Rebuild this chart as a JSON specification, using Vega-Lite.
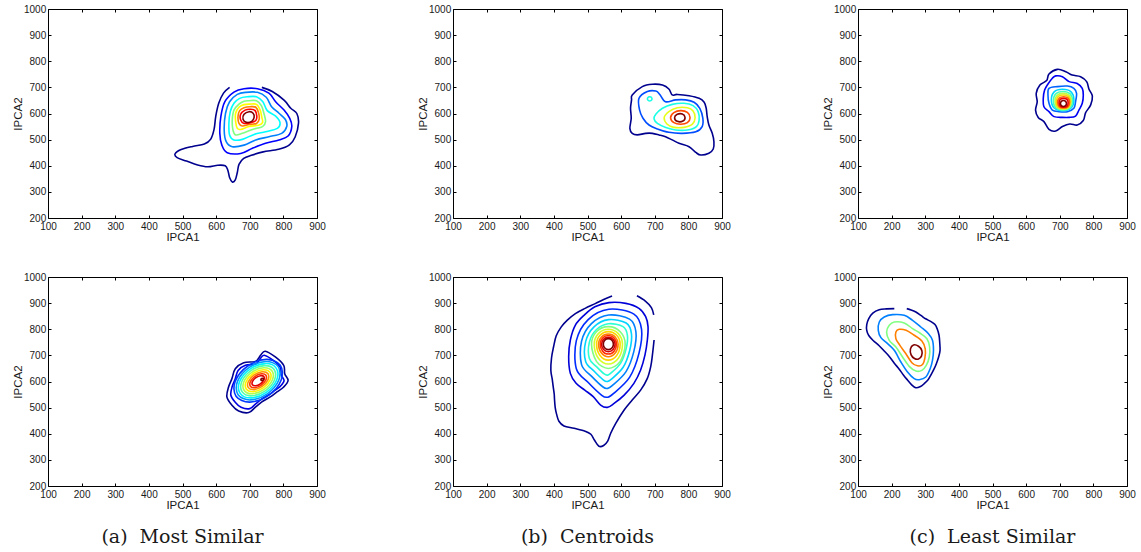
{
"$schema": "https://vega.github.io/schema/vega-lite/v6.json",
"background": "white",
"padding": {"left": 12, "top": 4, "right": 5, "bottom": 5},
"autosize": {"type": "pad"},
"config": {
 "view": {"stroke": null},
 "axis": {"grid": false, "tickSize": -3, "tickColor": "#000", "tickWidth": 1, "domainColor": "#000", "domainWidth": 1, "labelFont": "Liberation Sans", "labelFontSize": 10, "labelColor": "#1a1a1a", "titleFont": "Liberation Sans", "titleFontSize": 11.5, "titleFontWeight": "normal", "titleColor": "#1a1a1a", "titlePadding": 0, "labelFlush": false, "labelOverlap": false},
 "axisX": {"labelPadding": 6.5},
 "axisY": {"labelPadding": 5.3}
},
"data": {"values": [
{"p":1,"c":0,"t":0,"o":1,"x":640,"y":700},{"p":1,"c":0,"t":0,"o":1,"x":622,"y":678},{"p":1,"c":0,"t":0,"o":1,"x":608,"y":640},{"p":1,"c":0,"t":0,"o":1,"x":599,"y":590},{"p":1,"c":0,"t":0,"o":1,"x":594,"y":540},{"p":1,"c":0,"t":0,"o":1,"x":584,"y":502},{"p":1,"c":0,"t":0,"o":1,"x":565,"y":483},{"p":1,"c":0,"t":0,"o":1,"x":530,"y":474},{"p":1,"c":0,"t":0,"o":1,"x":496,"y":462},{"p":1,"c":0,"t":0,"o":1,"x":478,"y":446},{"p":1,"c":0,"t":0,"o":1,"x":484,"y":431},{"p":1,"c":0,"t":0,"o":1,"x":512,"y":418},{"p":1,"c":0,"t":0,"o":1,"x":545,"y":403},{"p":1,"c":0,"t":0,"o":1,"x":575,"y":396},{"p":1,"c":0,"t":0,"o":1,"x":605,"y":402},{"p":1,"c":0,"t":0,"o":1,"x":627,"y":400},{"p":1,"c":0,"t":0,"o":1,"x":635,"y":382},{"p":1,"c":0,"t":0,"o":1,"x":640,"y":355},{"p":1,"c":0,"t":0,"o":1,"x":648,"y":338},{"p":1,"c":0,"t":0,"o":1,"x":657,"y":346},{"p":1,"c":0,"t":0,"o":1,"x":663,"y":374},{"p":1,"c":0,"t":0,"o":1,"x":668,"y":405},{"p":1,"c":0,"t":0,"o":1,"x":682,"y":428},{"p":1,"c":0,"t":0,"o":1,"x":705,"y":440},{"p":1,"c":0,"t":0,"o":1,"x":740,"y":453},{"p":1,"c":0,"t":0,"o":1,"x":786,"y":463},{"p":1,"c":0,"t":0,"o":1,"x":818,"y":480},{"p":1,"c":0,"t":0,"o":1,"x":835,"y":510},{"p":1,"c":0,"t":0,"o":1,"x":845,"y":563},{"p":1,"c":0,"t":0,"o":1,"x":840,"y":600},{"p":1,"c":0,"t":0,"o":1,"x":822,"y":620},{"p":1,"c":0,"t":0,"o":1,"x":802,"y":651},{"p":1,"c":0,"t":0,"o":1,"x":767,"y":684},{"p":1,"c":0,"t":0,"o":1,"x":736,"y":700},
{"p":1,"c":1,"t":0.125,"o":0,"x":683,"y":695},{"p":1,"c":1,"t":0.125,"o":0,"x":723,"y":695},{"p":1,"c":1,"t":0.125,"o":0,"x":757,"y":678},{"p":1,"c":1,"t":0.125,"o":0,"x":777,"y":645},{"p":1,"c":1,"t":0.125,"o":0,"x":802,"y":613},{"p":1,"c":1,"t":0.125,"o":0,"x":819,"y":581},{"p":1,"c":1,"t":0.125,"o":0,"x":825,"y":550},{"p":1,"c":1,"t":0.125,"o":0,"x":814,"y":514},{"p":1,"c":1,"t":0.125,"o":0,"x":787,"y":499},{"p":1,"c":1,"t":0.125,"o":0,"x":747,"y":486},{"p":1,"c":1,"t":0.125,"o":0,"x":708,"y":467},{"p":1,"c":1,"t":0.125,"o":0,"x":673,"y":447},{"p":1,"c":1,"t":0.125,"o":0,"x":633,"y":450},{"p":1,"c":1,"t":0.125,"o":0,"x":617,"y":479},{"p":1,"c":1,"t":0.125,"o":0,"x":611,"y":524},{"p":1,"c":1,"t":0.125,"o":0,"x":614,"y":588},{"p":1,"c":1,"t":0.125,"o":0,"x":626,"y":645},{"p":1,"c":1,"t":0.125,"o":0,"x":653,"y":682},
{"p":1,"c":2,"t":0.25,"o":0,"x":688,"y":681},{"p":1,"c":2,"t":0.25,"o":0,"x":723,"y":681},{"p":1,"c":2,"t":0.25,"o":0,"x":749,"y":662},{"p":1,"c":2,"t":0.25,"o":0,"x":765,"y":626},{"p":1,"c":2,"t":0.25,"o":0,"x":787,"y":601},{"p":1,"c":2,"t":0.25,"o":0,"x":806,"y":577},{"p":1,"c":2,"t":0.25,"o":0,"x":810,"y":550},{"p":1,"c":2,"t":0.25,"o":0,"x":795,"y":524},{"p":1,"c":2,"t":0.25,"o":0,"x":757,"y":511},{"p":1,"c":2,"t":0.25,"o":0,"x":718,"y":499},{"p":1,"c":2,"t":0.25,"o":0,"x":683,"y":479},{"p":1,"c":2,"t":0.25,"o":0,"x":648,"y":473},{"p":1,"c":2,"t":0.25,"o":0,"x":630,"y":492},{"p":1,"c":2,"t":0.25,"o":0,"x":624,"y":537},{"p":1,"c":2,"t":0.25,"o":0,"x":628,"y":601},{"p":1,"c":2,"t":0.25,"o":0,"x":640,"y":645},{"p":1,"c":2,"t":0.25,"o":0,"x":663,"y":673},
{"p":1,"c":3,"t":0.375,"o":0,"x":693,"y":664},{"p":1,"c":3,"t":0.375,"o":0,"x":720,"y":664},{"p":1,"c":3,"t":0.375,"o":0,"x":739,"y":645},{"p":1,"c":3,"t":0.375,"o":0,"x":752,"y":611},{"p":1,"c":3,"t":0.375,"o":0,"x":777,"y":590},{"p":1,"c":3,"t":0.375,"o":0,"x":790,"y":565},{"p":1,"c":3,"t":0.375,"o":0,"x":782,"y":543},{"p":1,"c":3,"t":0.375,"o":0,"x":747,"y":530},{"p":1,"c":3,"t":0.375,"o":0,"x":713,"y":520},{"p":1,"c":3,"t":0.375,"o":0,"x":678,"y":501},{"p":1,"c":3,"t":0.375,"o":0,"x":653,"y":499},{"p":1,"c":3,"t":0.375,"o":0,"x":640,"y":518},{"p":1,"c":3,"t":0.375,"o":0,"x":638,"y":562},{"p":1,"c":3,"t":0.375,"o":0,"x":642,"y":607},{"p":1,"c":3,"t":0.375,"o":0,"x":653,"y":639},{"p":1,"c":3,"t":0.375,"o":0,"x":670,"y":658},
{"p":1,"c":4,"t":0.5,"o":0,"x":698,"y":649},{"p":1,"c":4,"t":0.5,"o":0,"x":720,"y":649},{"p":1,"c":4,"t":0.5,"o":0,"x":735,"y":629},{"p":1,"c":4,"t":0.5,"o":0,"x":742,"y":601},{"p":1,"c":4,"t":0.5,"o":0,"x":747,"y":569},{"p":1,"c":4,"t":0.5,"o":0,"x":738,"y":550},{"p":1,"c":4,"t":0.5,"o":0,"x":708,"y":539},{"p":1,"c":4,"t":0.5,"o":0,"x":678,"y":524},{"p":1,"c":4,"t":0.5,"o":0,"x":658,"y":518},{"p":1,"c":4,"t":0.5,"o":0,"x":650,"y":537},{"p":1,"c":4,"t":0.5,"o":0,"x":648,"y":575},{"p":1,"c":4,"t":0.5,"o":0,"x":653,"y":613},{"p":1,"c":4,"t":0.5,"o":0,"x":668,"y":636},{"p":1,"c":4,"t":0.5,"o":0,"x":683,"y":647},
{"p":1,"c":5,"t":0.625,"o":0,"x":700,"y":636},{"p":1,"c":5,"t":0.625,"o":0,"x":720,"y":635},{"p":1,"c":5,"t":0.625,"o":0,"x":731,"y":613},{"p":1,"c":5,"t":0.625,"o":0,"x":736,"y":585},{"p":1,"c":5,"t":0.625,"o":0,"x":738,"y":565},{"p":1,"c":5,"t":0.625,"o":0,"x":726,"y":555},{"p":1,"c":5,"t":0.625,"o":0,"x":698,"y":550},{"p":1,"c":5,"t":0.625,"o":0,"x":673,"y":539},{"p":1,"c":5,"t":0.625,"o":0,"x":663,"y":543},{"p":1,"c":5,"t":0.625,"o":0,"x":658,"y":569},{"p":1,"c":5,"t":0.625,"o":0,"x":658,"y":601},{"p":1,"c":5,"t":0.625,"o":0,"x":668,"y":624},{"p":1,"c":5,"t":0.625,"o":0,"x":683,"y":634},
{"p":1,"c":6,"t":0.75,"o":0,"x":701,"y":626},{"p":1,"c":6,"t":0.75,"o":0,"x":718,"y":624},{"p":1,"c":6,"t":0.75,"o":0,"x":726,"y":603},{"p":1,"c":6,"t":0.75,"o":0,"x":728,"y":578},{"p":1,"c":6,"t":0.75,"o":0,"x":720,"y":562},{"p":1,"c":6,"t":0.75,"o":0,"x":698,"y":558},{"p":1,"c":6,"t":0.75,"o":0,"x":678,"y":552},{"p":1,"c":6,"t":0.75,"o":0,"x":668,"y":562},{"p":1,"c":6,"t":0.75,"o":0,"x":665,"y":588},{"p":1,"c":6,"t":0.75,"o":0,"x":670,"y":611},{"p":1,"c":6,"t":0.75,"o":0,"x":683,"y":622},
{"p":1,"c":7,"t":0.875,"o":0,"x":703,"y":616},{"p":1,"c":7,"t":0.875,"o":0,"x":716,"y":611},{"p":1,"c":7,"t":0.875,"o":0,"x":721,"y":590},{"p":1,"c":7,"t":0.875,"o":0,"x":718,"y":573},{"p":1,"c":7,"t":0.875,"o":0,"x":703,"y":565},{"p":1,"c":7,"t":0.875,"o":0,"x":683,"y":562},{"p":1,"c":7,"t":0.875,"o":0,"x":673,"y":575},{"p":1,"c":7,"t":0.875,"o":0,"x":673,"y":597},{"p":1,"c":7,"t":0.875,"o":0,"x":686,"y":613},
{"p":1,"c":8,"t":1,"o":0,"x":698,"y":607},{"p":1,"c":8,"t":1,"o":0,"x":710,"y":601},{"p":1,"c":8,"t":1,"o":0,"x":713,"y":585},{"p":1,"c":8,"t":1,"o":0,"x":706,"y":570},{"p":1,"c":8,"t":1,"o":0,"x":690,"y":566},{"p":1,"c":8,"t":1,"o":0,"x":680,"y":578},{"p":1,"c":8,"t":1,"o":0,"x":683,"y":597},

{"p":2,"c":0,"t":0,"o":0,"x":633,"y":671},{"p":2,"c":0,"t":0,"o":0,"x":663,"y":703},{"p":2,"c":0,"t":0,"o":0,"x":693,"y":712},{"p":2,"c":0,"t":0,"o":0,"x":723,"y":709},{"p":2,"c":0,"t":0,"o":0,"x":742,"y":694},{"p":2,"c":0,"t":0,"o":0,"x":752,"y":671},{"p":2,"c":0,"t":0,"o":0,"x":767,"y":673},{"p":2,"c":0,"t":0,"o":0,"x":802,"y":668},{"p":2,"c":0,"t":0,"o":0,"x":832,"y":658},{"p":2,"c":0,"t":0,"o":0,"x":847,"y":643},{"p":2,"c":0,"t":0,"o":0,"x":853,"y":620},{"p":2,"c":0,"t":0,"o":0,"x":856,"y":588},{"p":2,"c":0,"t":0,"o":0,"x":861,"y":556},{"p":2,"c":0,"t":0,"o":0,"x":871,"y":524},{"p":2,"c":0,"t":0,"o":0,"x":876,"y":492},{"p":2,"c":0,"t":0,"o":0,"x":874,"y":464},{"p":2,"c":0,"t":0,"o":0,"x":861,"y":448},{"p":2,"c":0,"t":0,"o":0,"x":837,"y":441},{"p":2,"c":0,"t":0,"o":0,"x":822,"y":451},{"p":2,"c":0,"t":0,"o":0,"x":802,"y":473},{"p":2,"c":0,"t":0,"o":0,"x":772,"y":486},{"p":2,"c":0,"t":0,"o":0,"x":752,"y":499},{"p":2,"c":0,"t":0,"o":0,"x":732,"y":511},{"p":2,"c":0,"t":0,"o":0,"x":713,"y":518},{"p":2,"c":0,"t":0,"o":0,"x":693,"y":524},{"p":2,"c":0,"t":0,"o":0,"x":673,"y":524},{"p":2,"c":0,"t":0,"o":0,"x":648,"y":518},{"p":2,"c":0,"t":0,"o":0,"x":633,"y":524},{"p":2,"c":0,"t":0,"o":0,"x":626,"y":543},{"p":2,"c":0,"t":0,"o":0,"x":630,"y":582},{"p":2,"c":0,"t":0,"o":0,"x":628,"y":620},{"p":2,"c":0,"t":0,"o":0,"x":631,"y":652},
{"p":2,"c":1,"t":0.2,"o":0,"x":653,"y":658},{"p":2,"c":1,"t":0.2,"o":0,"x":678,"y":684},{"p":2,"c":1,"t":0.2,"o":0,"x":703,"y":686},{"p":2,"c":1,"t":0.2,"o":0,"x":715,"y":673},{"p":2,"c":1,"t":0.2,"o":0,"x":732,"y":645},{"p":2,"c":1,"t":0.2,"o":0,"x":762,"y":652},{"p":2,"c":1,"t":0.2,"o":0,"x":792,"y":652},{"p":2,"c":1,"t":0.2,"o":0,"x":817,"y":643},{"p":2,"c":1,"t":0.2,"o":0,"x":834,"y":620},{"p":2,"c":1,"t":0.2,"o":0,"x":843,"y":582},{"p":2,"c":1,"t":0.2,"o":0,"x":841,"y":550},{"p":2,"c":1,"t":0.2,"o":0,"x":822,"y":530},{"p":2,"c":1,"t":0.2,"o":0,"x":782,"y":524},{"p":2,"c":1,"t":0.2,"o":0,"x":742,"y":528},{"p":2,"c":1,"t":0.2,"o":0,"x":708,"y":541},{"p":2,"c":1,"t":0.2,"o":0,"x":683,"y":556},{"p":2,"c":1,"t":0.2,"o":0,"x":665,"y":582},{"p":2,"c":1,"t":0.2,"o":0,"x":655,"y":613},
{"p":2,"c":2,"t":0.4,"o":0,"x":685,"y":664},{"p":2,"c":2,"t":0.4,"o":0,"x":691,"y":660},{"p":2,"c":2,"t":0.4,"o":0,"x":691,"y":652},{"p":2,"c":2,"t":0.4,"o":0,"x":685,"y":648},{"p":2,"c":2,"t":0.4,"o":0,"x":679,"y":652},{"p":2,"c":2,"t":0.4,"o":0,"x":679,"y":660},
{"p":2,"c":3,"t":0.4,"o":0,"x":703,"y":597},{"p":2,"c":3,"t":0.4,"o":0,"x":723,"y":620},{"p":2,"c":3,"t":0.4,"o":0,"x":752,"y":635},{"p":2,"c":3,"t":0.4,"o":0,"x":787,"y":639},{"p":2,"c":3,"t":0.4,"o":0,"x":814,"y":630},{"p":2,"c":3,"t":0.4,"o":0,"x":829,"y":607},{"p":2,"c":3,"t":0.4,"o":0,"x":832,"y":575},{"p":2,"c":3,"t":0.4,"o":0,"x":824,"y":550},{"p":2,"c":3,"t":0.4,"o":0,"x":797,"y":537},{"p":2,"c":3,"t":0.4,"o":0,"x":762,"y":537},{"p":2,"c":3,"t":0.4,"o":0,"x":733,"y":546},{"p":2,"c":3,"t":0.4,"o":0,"x":708,"y":562},{"p":2,"c":3,"t":0.4,"o":0,"x":698,"y":579},
{"p":2,"c":4,"t":0.6,"o":0,"x":728,"y":584},{"p":2,"c":4,"t":0.6,"o":0,"x":742,"y":607},{"p":2,"c":4,"t":0.6,"o":0,"x":767,"y":622},{"p":2,"c":4,"t":0.6,"o":0,"x":797,"y":622},{"p":2,"c":4,"t":0.6,"o":0,"x":814,"y":610},{"p":2,"c":4,"t":0.6,"o":0,"x":820,"y":584},{"p":2,"c":4,"t":0.6,"o":0,"x":812,"y":559},{"p":2,"c":4,"t":0.6,"o":0,"x":787,"y":547},{"p":2,"c":4,"t":0.6,"o":0,"x":757,"y":547},{"p":2,"c":4,"t":0.6,"o":0,"x":737,"y":559},
{"p":2,"c":5,"t":0.8,"o":0,"x":747,"y":584},{"p":2,"c":5,"t":0.8,"o":0,"x":757,"y":603},{"p":2,"c":5,"t":0.8,"o":0,"x":777,"y":611},{"p":2,"c":5,"t":0.8,"o":0,"x":797,"y":604},{"p":2,"c":5,"t":0.8,"o":0,"x":805,"y":584},{"p":2,"c":5,"t":0.8,"o":0,"x":797,"y":565},{"p":2,"c":5,"t":0.8,"o":0,"x":777,"y":559},{"p":2,"c":5,"t":0.8,"o":0,"x":757,"y":565},
{"p":2,"c":6,"t":1,"o":0,"x":759,"y":584},{"p":2,"c":6,"t":1,"o":0,"x":767,"y":597},{"p":2,"c":6,"t":1,"o":0,"x":782,"y":598},{"p":2,"c":6,"t":1,"o":0,"x":790,"y":585},{"p":2,"c":6,"t":1,"o":0,"x":784,"y":571},{"p":2,"c":6,"t":1,"o":0,"x":767,"y":570},

{"p":3,"c":0,"t":0,"o":0,"x":693,"y":769},{"p":3,"c":0,"t":0,"o":0,"x":718,"y":760},{"p":3,"c":0,"t":0,"o":0,"x":737,"y":747},{"p":3,"c":0,"t":0,"o":0,"x":762,"y":741},{"p":3,"c":0,"t":0,"o":0,"x":780,"y":722},{"p":3,"c":0,"t":0,"o":0,"x":787,"y":693},{"p":3,"c":0,"t":0,"o":0,"x":797,"y":667},{"p":3,"c":0,"t":0,"o":0,"x":792,"y":633},{"p":3,"c":0,"t":0,"o":0,"x":777,"y":603},{"p":3,"c":0,"t":0,"o":0,"x":770,"y":573},{"p":3,"c":0,"t":0,"o":0,"x":752,"y":556},{"p":3,"c":0,"t":0,"o":0,"x":730,"y":560},{"p":3,"c":0,"t":0,"o":0,"x":708,"y":550},{"p":3,"c":0,"t":0,"o":0,"x":688,"y":533},{"p":3,"c":0,"t":0,"o":0,"x":668,"y":539},{"p":3,"c":0,"t":0,"o":0,"x":653,"y":569},{"p":3,"c":0,"t":0,"o":0,"x":636,"y":585},{"p":3,"c":0,"t":0,"o":0,"x":628,"y":613},{"p":3,"c":0,"t":0,"o":0,"x":633,"y":645},{"p":3,"c":0,"t":0,"o":0,"x":630,"y":677},{"p":3,"c":0,"t":0,"o":0,"x":641,"y":709},{"p":3,"c":0,"t":0,"o":0,"x":661,"y":726},{"p":3,"c":0,"t":0,"o":0,"x":668,"y":751},
{"p":3,"c":1,"t":0.111,"o":0,"x":688,"y":744},{"p":3,"c":1,"t":0.111,"o":0,"x":708,"y":741},{"p":3,"c":1,"t":0.111,"o":0,"x":728,"y":722},{"p":3,"c":1,"t":0.111,"o":0,"x":752,"y":715},{"p":3,"c":1,"t":0.111,"o":0,"x":767,"y":696},{"p":3,"c":1,"t":0.111,"o":0,"x":770,"y":671},{"p":3,"c":1,"t":0.111,"o":0,"x":767,"y":639},{"p":3,"c":1,"t":0.111,"o":0,"x":757,"y":613},{"p":3,"c":1,"t":0.111,"o":0,"x":747,"y":590},{"p":3,"c":1,"t":0.111,"o":0,"x":728,"y":585},{"p":3,"c":1,"t":0.111,"o":0,"x":708,"y":585},{"p":3,"c":1,"t":0.111,"o":0,"x":683,"y":588},{"p":3,"c":1,"t":0.111,"o":0,"x":668,"y":607},{"p":3,"c":1,"t":0.111,"o":0,"x":653,"y":626},{"p":3,"c":1,"t":0.111,"o":0,"x":651,"y":658},{"p":3,"c":1,"t":0.111,"o":0,"x":655,"y":690},{"p":3,"c":1,"t":0.111,"o":0,"x":665,"y":713},{"p":3,"c":1,"t":0.111,"o":0,"x":678,"y":735},
{"p":3,"c":2,"t":0.222,"o":0,"x":668,"y":696},{"p":3,"c":2,"t":0.222,"o":0,"x":693,"y":703},{"p":3,"c":2,"t":0.222,"o":0,"x":723,"y":705},{"p":3,"c":2,"t":0.222,"o":0,"x":742,"y":696},{"p":3,"c":2,"t":0.222,"o":0,"x":750,"y":677},{"p":3,"c":2,"t":0.222,"o":0,"x":747,"y":645},{"p":3,"c":2,"t":0.222,"o":0,"x":742,"y":620},{"p":3,"c":2,"t":0.222,"o":0,"x":723,"y":607},{"p":3,"c":2,"t":0.222,"o":0,"x":698,"y":607},{"p":3,"c":2,"t":0.222,"o":0,"x":678,"y":613},{"p":3,"c":2,"t":0.222,"o":0,"x":668,"y":639},{"p":3,"c":2,"t":0.222,"o":0,"x":665,"y":671},
{"p":3,"c":3,"t":0.333,"o":0,"x":708.5,"y":693},{"p":3,"c":3,"t":0.333,"o":0,"x":733.6,"y":682.8},{"p":3,"c":3,"t":0.333,"o":0,"x":742,"y":652},{"p":3,"c":3,"t":0.333,"o":0,"x":733.6,"y":621.2},{"p":3,"c":3,"t":0.333,"o":0,"x":708.5,"y":611},{"p":3,"c":3,"t":0.333,"o":0,"x":683.4,"y":621.2},{"p":3,"c":3,"t":0.333,"o":0,"x":675,"y":652},{"p":3,"c":3,"t":0.333,"o":0,"x":683.4,"y":682.8},
{"p":3,"c":4,"t":0.444,"o":0,"x":709.5,"y":684},{"p":3,"c":4,"t":0.444,"o":0,"x":730.9,"y":675.1},{"p":3,"c":4,"t":0.444,"o":0,"x":738,"y":648.5},{"p":3,"c":4,"t":0.444,"o":0,"x":730.9,"y":621.9},{"p":3,"c":4,"t":0.444,"o":0,"x":709.5,"y":613},{"p":3,"c":4,"t":0.444,"o":0,"x":688.1,"y":621.9},{"p":3,"c":4,"t":0.444,"o":0,"x":681,"y":648.5},{"p":3,"c":4,"t":0.444,"o":0,"x":688.1,"y":675.1},
{"p":3,"c":5,"t":0.556,"o":0,"x":710,"y":677},{"p":3,"c":5,"t":0.556,"o":0,"x":728,"y":669.4},{"p":3,"c":5,"t":0.556,"o":0,"x":734,"y":646.5},{"p":3,"c":5,"t":0.556,"o":0,"x":728,"y":623.6},{"p":3,"c":5,"t":0.556,"o":0,"x":710,"y":616},{"p":3,"c":5,"t":0.556,"o":0,"x":692,"y":623.6},{"p":3,"c":5,"t":0.556,"o":0,"x":686,"y":646.5},{"p":3,"c":5,"t":0.556,"o":0,"x":692,"y":669.4},
{"p":3,"c":6,"t":0.667,"o":0,"x":710.5,"y":671},{"p":3,"c":6,"t":0.667,"o":0,"x":725.9,"y":664.5},{"p":3,"c":6,"t":0.667,"o":0,"x":731,"y":645},{"p":3,"c":6,"t":0.667,"o":0,"x":725.9,"y":625.5},{"p":3,"c":6,"t":0.667,"o":0,"x":710.5,"y":619},{"p":3,"c":6,"t":0.667,"o":0,"x":695.1,"y":625.5},{"p":3,"c":6,"t":0.667,"o":0,"x":690,"y":645},{"p":3,"c":6,"t":0.667,"o":0,"x":695.1,"y":664.5},
{"p":3,"c":7,"t":0.778,"o":0,"x":711.5,"y":664},{"p":3,"c":7,"t":0.778,"o":0,"x":724.6,"y":658.6},{"p":3,"c":7,"t":0.778,"o":0,"x":729,"y":642.5},{"p":3,"c":7,"t":0.778,"o":0,"x":724.6,"y":626.4},{"p":3,"c":7,"t":0.778,"o":0,"x":711.5,"y":621},{"p":3,"c":7,"t":0.778,"o":0,"x":698.4,"y":626.4},{"p":3,"c":7,"t":0.778,"o":0,"x":694,"y":642.5},{"p":3,"c":7,"t":0.778,"o":0,"x":698.4,"y":658.6},
{"p":3,"c":8,"t":0.889,"o":0,"x":711.5,"y":658},{"p":3,"c":8,"t":0.889,"o":0,"x":721.6,"y":653.8},{"p":3,"c":8,"t":0.889,"o":0,"x":725,"y":641},{"p":3,"c":8,"t":0.889,"o":0,"x":721.6,"y":628.2},{"p":3,"c":8,"t":0.889,"o":0,"x":711.5,"y":624},{"p":3,"c":8,"t":0.889,"o":0,"x":701.4,"y":628.2},{"p":3,"c":8,"t":0.889,"o":0,"x":698,"y":641},{"p":3,"c":8,"t":0.889,"o":0,"x":701.4,"y":653.8},
{"p":3,"c":9,"t":1,"o":0,"x":711,"y":650},{"p":3,"c":9,"t":1,"o":0,"x":717.4,"y":646.6},{"p":3,"c":9,"t":1,"o":0,"x":720,"y":638.5},{"p":3,"c":9,"t":1,"o":0,"x":717.4,"y":630.4},{"p":3,"c":9,"t":1,"o":0,"x":711,"y":627},{"p":3,"c":9,"t":1,"o":0,"x":704.6,"y":630.4},{"p":3,"c":9,"t":1,"o":0,"x":702,"y":638.5},{"p":3,"c":9,"t":1,"o":0,"x":704.6,"y":646.6},

{"p":4,"c":0,"t":0,"o":0,"x":746,"y":716},{"p":4,"c":0,"t":0,"o":0,"x":776,"y":694},{"p":4,"c":0,"t":0,"o":0,"x":801,"y":662},{"p":4,"c":0,"t":0,"o":0,"x":804,"y":630},{"p":4,"c":0,"t":0,"o":0,"x":814,"y":604},{"p":4,"c":0,"t":0,"o":0,"x":801,"y":579},{"p":4,"c":0,"t":0,"o":0,"x":781,"y":560},{"p":4,"c":0,"t":0,"o":0,"x":761,"y":541},{"p":4,"c":0,"t":0,"o":0,"x":736,"y":522},{"p":4,"c":0,"t":0,"o":0,"x":717,"y":502},{"p":4,"c":0,"t":0,"o":0,"x":697,"y":481},{"p":4,"c":0,"t":0,"o":0,"x":667,"y":487},{"p":4,"c":0,"t":0,"o":0,"x":647,"y":509},{"p":4,"c":0,"t":0,"o":0,"x":632,"y":541},{"p":4,"c":0,"t":0,"o":0,"x":637,"y":579},{"p":4,"c":0,"t":0,"o":0,"x":647,"y":611},{"p":4,"c":0,"t":0,"o":0,"x":657,"y":649},{"p":4,"c":0,"t":0,"o":0,"x":682,"y":672},{"p":4,"c":0,"t":0,"o":0,"x":717,"y":677},{"p":4,"c":0,"t":0,"o":0,"x":732,"y":700},
{"p":4,"c":1,"t":0.091,"o":0,"x":742.9,"y":700.7},{"p":4,"c":1,"t":0.091,"o":0,"x":769,"y":681.5},{"p":4,"c":1,"t":0.091,"o":0,"x":790.7,"y":653.7},{"p":4,"c":1,"t":0.091,"o":0,"x":793.3,"y":625.8},{"p":4,"c":1,"t":0.091,"o":0,"x":802,"y":603.2},{"p":4,"c":1,"t":0.091,"o":0,"x":790.7,"y":581.5},{"p":4,"c":1,"t":0.091,"o":0,"x":773.3,"y":564.9},{"p":4,"c":1,"t":0.091,"o":0,"x":755.9,"y":548.4},{"p":4,"c":1,"t":0.091,"o":0,"x":734.2,"y":531.9},{"p":4,"c":1,"t":0.091,"o":0,"x":717.6,"y":514.5},{"p":4,"c":1,"t":0.091,"o":0,"x":700.2,"y":496.2},{"p":4,"c":1,"t":0.091,"o":0,"x":674.1,"y":501.4},{"p":4,"c":1,"t":0.091,"o":0,"x":656.7,"y":520.6},{"p":4,"c":1,"t":0.091,"o":0,"x":643.7,"y":548.4},{"p":4,"c":1,"t":0.091,"o":0,"x":648,"y":581.5},{"p":4,"c":1,"t":0.091,"o":0,"x":656.7,"y":609.3},{"p":4,"c":1,"t":0.091,"o":0,"x":665.4,"y":642.4},{"p":4,"c":1,"t":0.091,"o":0,"x":687.2,"y":662.4},{"p":4,"c":1,"t":0.091,"o":0,"x":717.6,"y":666.7},{"p":4,"c":1,"t":0.091,"o":0,"x":730.7,"y":686.7},
{"p":4,"c":2,"t":0.182,"o":0,"x":790.8,"y":662.3},{"p":4,"c":2,"t":0.182,"o":0,"x":749.8,"y":684.8},{"p":4,"c":2,"t":0.182,"o":0,"x":694.3,"y":659.4},{"p":4,"c":2,"t":0.182,"o":0,"x":656.8,"y":600.9},{"p":4,"c":2,"t":0.182,"o":0,"x":659.2,"y":543.7},{"p":4,"c":2,"t":0.182,"o":0,"x":700.2,"y":521.2},{"p":4,"c":2,"t":0.182,"o":0,"x":755.7,"y":546.6},{"p":4,"c":2,"t":0.182,"o":0,"x":793.2,"y":605.1},
{"p":4,"c":3,"t":0.273,"o":0,"x":784.7,"y":656.8},{"p":4,"c":3,"t":0.273,"o":0,"x":747.9,"y":676.5},{"p":4,"c":3,"t":0.273,"o":0,"x":697.7,"y":653.2},{"p":4,"c":3,"t":0.273,"o":0,"x":663.5,"y":600.5},{"p":4,"c":3,"t":0.273,"o":0,"x":665.3,"y":549.2},{"p":4,"c":3,"t":0.273,"o":0,"x":702.1,"y":529.5},{"p":4,"c":3,"t":0.273,"o":0,"x":752.3,"y":552.8},{"p":4,"c":3,"t":0.273,"o":0,"x":786.5,"y":605.5},
{"p":4,"c":4,"t":0.364,"o":0,"x":778.6,"y":651.3},{"p":4,"c":4,"t":0.364,"o":0,"x":745.8,"y":668.6},{"p":4,"c":4,"t":0.364,"o":0,"x":700.8,"y":647.5},{"p":4,"c":4,"t":0.364,"o":0,"x":670,"y":600.3},{"p":4,"c":4,"t":0.364,"o":0,"x":671.4,"y":554.7},{"p":4,"c":4,"t":0.364,"o":0,"x":704.2,"y":537.4},{"p":4,"c":4,"t":0.364,"o":0,"x":749.2,"y":558.5},{"p":4,"c":4,"t":0.364,"o":0,"x":780,"y":605.7},
{"p":4,"c":5,"t":0.455,"o":0,"x":772.5,"y":645.8},{"p":4,"c":5,"t":0.455,"o":0,"x":743.6,"y":660.8},{"p":4,"c":5,"t":0.455,"o":0,"x":703.8,"y":641.9},{"p":4,"c":5,"t":0.455,"o":0,"x":676.4,"y":600.2},{"p":4,"c":5,"t":0.455,"o":0,"x":677.5,"y":560.2},{"p":4,"c":5,"t":0.455,"o":0,"x":706.4,"y":545.2},{"p":4,"c":5,"t":0.455,"o":0,"x":746.2,"y":564.1},{"p":4,"c":5,"t":0.455,"o":0,"x":773.6,"y":605.8},
{"p":4,"c":6,"t":0.545,"o":0,"x":766.4,"y":640.3},{"p":4,"c":6,"t":0.545,"o":0,"x":741.5,"y":652.8},{"p":4,"c":6,"t":0.545,"o":0,"x":706.9,"y":636.2},{"p":4,"c":6,"t":0.545,"o":0,"x":682.9,"y":600.1},{"p":4,"c":6,"t":0.545,"o":0,"x":683.6,"y":565.7},{"p":4,"c":6,"t":0.545,"o":0,"x":708.5,"y":553.2},{"p":4,"c":6,"t":0.545,"o":0,"x":743.1,"y":569.8},{"p":4,"c":6,"t":0.545,"o":0,"x":767.1,"y":605.9},
{"p":4,"c":7,"t":0.636,"o":0,"x":760.3,"y":634.8},{"p":4,"c":7,"t":0.636,"o":0,"x":739.4,"y":645},{"p":4,"c":7,"t":0.636,"o":0,"x":710,"y":630.6},{"p":4,"c":7,"t":0.636,"o":0,"x":689.4,"y":600},{"p":4,"c":7,"t":0.636,"o":0,"x":689.7,"y":571.2},{"p":4,"c":7,"t":0.636,"o":0,"x":710.6,"y":561},{"p":4,"c":7,"t":0.636,"o":0,"x":740,"y":575.4},{"p":4,"c":7,"t":0.636,"o":0,"x":760.6,"y":606},
{"p":4,"c":8,"t":0.727,"o":0,"x":754.2,"y":629.4},{"p":4,"c":8,"t":0.727,"o":0,"x":737.2,"y":637.2},{"p":4,"c":8,"t":0.727,"o":0,"x":713.1,"y":625},{"p":4,"c":8,"t":0.727,"o":0,"x":695.9,"y":599.9},{"p":4,"c":8,"t":0.727,"o":0,"x":695.8,"y":576.6},{"p":4,"c":8,"t":0.727,"o":0,"x":712.8,"y":568.8},{"p":4,"c":8,"t":0.727,"o":0,"x":736.9,"y":581},{"p":4,"c":8,"t":0.727,"o":0,"x":754.1,"y":606.1},
{"p":4,"c":9,"t":0.818,"o":0,"x":748.1,"y":623.9},{"p":4,"c":9,"t":0.818,"o":0,"x":734.8,"y":629.7},{"p":4,"c":9,"t":0.818,"o":0,"x":715.8,"y":619.9},{"p":4,"c":9,"t":0.818,"o":0,"x":702.2,"y":600.2},{"p":4,"c":9,"t":0.818,"o":0,"x":701.9,"y":582.1},{"p":4,"c":9,"t":0.818,"o":0,"x":715.2,"y":576.3},{"p":4,"c":9,"t":0.818,"o":0,"x":734.2,"y":586.1},{"p":4,"c":9,"t":0.818,"o":0,"x":747.8,"y":605.8},
{"p":4,"c":10,"t":0.909,"o":0,"x":742.1,"y":618.4},{"p":4,"c":10,"t":0.909,"o":0,"x":732.5,"y":622.3},{"p":4,"c":10,"t":0.909,"o":0,"x":718.5,"y":614.9},{"p":4,"c":10,"t":0.909,"o":0,"x":708.3,"y":600.5},{"p":4,"c":10,"t":0.909,"o":0,"x":707.9,"y":587.6},{"p":4,"c":10,"t":0.909,"o":0,"x":717.5,"y":583.7},{"p":4,"c":10,"t":0.909,"o":0,"x":731.5,"y":591.1},{"p":4,"c":10,"t":0.909,"o":0,"x":741.7,"y":605.5},
{"p":4,"c":11,"t":1,"o":0,"x":741,"y":610},{"p":4,"c":11,"t":1,"o":0,"x":737,"y":612.5},{"p":4,"c":11,"t":1,"o":0,"x":733,"y":607},{"p":4,"c":11,"t":1,"o":0,"x":737,"y":604},

{"p":5,"c":0,"t":0,"o":1,"x":573,"y":927},{"p":5,"c":0,"t":0,"o":1,"x":548,"y":914},{"p":5,"c":0,"t":0,"o":1,"x":523,"y":898},{"p":5,"c":0,"t":0,"o":1,"x":493,"y":880},{"p":5,"c":0,"t":0,"o":1,"x":464,"y":860},{"p":5,"c":0,"t":0,"o":1,"x":440,"y":835},{"p":5,"c":0,"t":0,"o":1,"x":422,"y":809},{"p":5,"c":0,"t":0,"o":1,"x":407,"y":775},{"p":5,"c":0,"t":0,"o":1,"x":399,"y":732},{"p":5,"c":0,"t":0,"o":1,"x":393,"y":690},{"p":5,"c":0,"t":0,"o":1,"x":391,"y":643},{"p":5,"c":0,"t":0,"o":1,"x":395,"y":610},{"p":5,"c":0,"t":0,"o":1,"x":398,"y":580},{"p":5,"c":0,"t":0,"o":1,"x":401,"y":552},{"p":5,"c":0,"t":0,"o":1,"x":402,"y":529},{"p":5,"c":0,"t":0,"o":1,"x":404,"y":500},{"p":5,"c":0,"t":0,"o":1,"x":408,"y":475},{"p":5,"c":0,"t":0,"o":1,"x":415,"y":448},{"p":5,"c":0,"t":0,"o":1,"x":430,"y":430},{"p":5,"c":0,"t":0,"o":1,"x":460,"y":421},{"p":5,"c":0,"t":0,"o":1,"x":493,"y":410},{"p":5,"c":0,"t":0,"o":1,"x":510,"y":398},{"p":5,"c":0,"t":0,"o":1,"x":521,"y":375},{"p":5,"c":0,"t":0,"o":1,"x":534,"y":352},{"p":5,"c":0,"t":0,"o":1,"x":548,"y":355},{"p":5,"c":0,"t":0,"o":1,"x":560,"y":372},{"p":5,"c":0,"t":0,"o":1,"x":569,"y":402},{"p":5,"c":0,"t":0,"o":1,"x":584,"y":440},{"p":5,"c":0,"t":0,"o":1,"x":609,"y":491},{"p":5,"c":0,"t":0,"o":1,"x":633,"y":529},{"p":5,"c":0,"t":0,"o":1,"x":658,"y":567},{"p":5,"c":0,"t":0,"o":1,"x":678,"y":612},{"p":5,"c":0,"t":0,"o":1,"x":688,"y":657},{"p":5,"c":0,"t":0,"o":1,"x":693,"y":701},{"p":5,"c":0,"t":0,"o":1,"x":698,"y":759},
{"p":5,"c":1,"t":0,"o":1,"x":647,"y":928},{"p":5,"c":1,"t":0,"o":1,"x":672,"y":908},{"p":5,"c":1,"t":0,"o":1,"x":690,"y":883},{"p":5,"c":1,"t":0,"o":1,"x":697,"y":855},
{"p":5,"c":2,"t":0.083,"o":0,"x":564,"y":902},{"p":5,"c":2,"t":0.083,"o":0,"x":614,"y":899},{"p":5,"c":2,"t":0.083,"o":0,"x":653,"y":880},{"p":5,"c":2,"t":0.083,"o":0,"x":673,"y":848},{"p":5,"c":2,"t":0.083,"o":0,"x":680,"y":810},{"p":5,"c":2,"t":0.083,"o":0,"x":678,"y":759},{"p":5,"c":2,"t":0.083,"o":0,"x":671,"y":702},{"p":5,"c":2,"t":0.083,"o":0,"x":658,"y":644},{"p":5,"c":2,"t":0.083,"o":0,"x":638,"y":593},{"p":5,"c":2,"t":0.083,"o":0,"x":609,"y":548},{"p":5,"c":2,"t":0.083,"o":0,"x":579,"y":516},{"p":5,"c":2,"t":0.083,"o":0,"x":559,"y":501},{"p":5,"c":2,"t":0.083,"o":0,"x":539,"y":510},{"p":5,"c":2,"t":0.083,"o":0,"x":517,"y":542},{"p":5,"c":2,"t":0.083,"o":0,"x":492,"y":567},{"p":5,"c":2,"t":0.083,"o":0,"x":466,"y":593},{"p":5,"c":2,"t":0.083,"o":0,"x":449,"y":631},{"p":5,"c":2,"t":0.083,"o":0,"x":444,"y":695},{"p":5,"c":2,"t":0.083,"o":0,"x":449,"y":759},{"p":5,"c":2,"t":0.083,"o":0,"x":464,"y":816},{"p":5,"c":2,"t":0.083,"o":0,"x":491,"y":855},{"p":5,"c":2,"t":0.083,"o":0,"x":522,"y":886},
{"p":5,"c":3,"t":0.167,"o":0,"x":563.4,"y":876.6},{"p":5,"c":3,"t":0.167,"o":0,"x":638.1,"y":858.1},{"p":5,"c":3,"t":0.167,"o":0,"x":660.8,"y":799.3},{"p":5,"c":3,"t":0.167,"o":0,"x":653.2,"y":708.6},{"p":5,"c":3,"t":0.167,"o":0,"x":625.5,"y":617},{"p":5,"c":3,"t":0.167,"o":0,"x":576,"y":552.3},{"p":5,"c":3,"t":0.167,"o":0,"x":559.2,"y":539.7},{"p":5,"c":3,"t":0.167,"o":0,"x":542.4,"y":547.3},{"p":5,"c":3,"t":0.167,"o":0,"x":502.9,"y":595.2},{"p":5,"c":3,"t":0.167,"o":0,"x":466.8,"y":648.9},{"p":5,"c":3,"t":0.167,"o":0,"x":466.8,"y":756.4},{"p":5,"c":3,"t":0.167,"o":0,"x":502,"y":837.1},
{"p":5,"c":4,"t":0.25,"o":0,"x":562.8,"y":854.3},{"p":5,"c":4,"t":0.25,"o":0,"x":625.1,"y":838.9},{"p":5,"c":4,"t":0.25,"o":0,"x":644,"y":789.9},{"p":5,"c":4,"t":0.25,"o":0,"x":637.7,"y":714.3},{"p":5,"c":4,"t":0.25,"o":0,"x":614.6,"y":638},{"p":5,"c":4,"t":0.25,"o":0,"x":573.3,"y":584.1},{"p":5,"c":4,"t":0.25,"o":0,"x":559.3,"y":573.6},{"p":5,"c":4,"t":0.25,"o":0,"x":545.3,"y":579.9},{"p":5,"c":4,"t":0.25,"o":0,"x":512.4,"y":619.8},{"p":5,"c":4,"t":0.25,"o":0,"x":482.3,"y":664.6},{"p":5,"c":4,"t":0.25,"o":0,"x":482.3,"y":754.2},{"p":5,"c":4,"t":0.25,"o":0,"x":511.7,"y":821.4},
{"p":5,"c":5,"t":0.333,"o":0,"x":562.4,"y":836.8},{"p":5,"c":5,"t":0.333,"o":0,"x":614.9,"y":823.8},{"p":5,"c":5,"t":0.333,"o":0,"x":630.8,"y":782.5},{"p":5,"c":5,"t":0.333,"o":0,"x":625.5,"y":718.8},{"p":5,"c":5,"t":0.333,"o":0,"x":606,"y":654.5},{"p":5,"c":5,"t":0.333,"o":0,"x":571.2,"y":609.1},{"p":5,"c":5,"t":0.333,"o":0,"x":559.4,"y":600.2},{"p":5,"c":5,"t":0.333,"o":0,"x":547.6,"y":605.5},{"p":5,"c":5,"t":0.333,"o":0,"x":519.9,"y":639.2},{"p":5,"c":5,"t":0.333,"o":0,"x":494.5,"y":676.9},{"p":5,"c":5,"t":0.333,"o":0,"x":494.5,"y":752.4},{"p":5,"c":5,"t":0.333,"o":0,"x":519.3,"y":809.1},
{"p":5,"c":6,"t":0.417,"o":0,"x":562,"y":820.9},{"p":5,"c":6,"t":0.417,"o":0,"x":605.6,"y":810.1},{"p":5,"c":6,"t":0.417,"o":0,"x":618.8,"y":775.8},{"p":5,"c":6,"t":0.417,"o":0,"x":614.4,"y":722.9},{"p":5,"c":6,"t":0.417,"o":0,"x":598.2,"y":669.5},{"p":5,"c":6,"t":0.417,"o":0,"x":569.3,"y":631.8},{"p":5,"c":6,"t":0.417,"o":0,"x":559.5,"y":624.4},{"p":5,"c":6,"t":0.417,"o":0,"x":549.7,"y":628.8},{"p":5,"c":6,"t":0.417,"o":0,"x":526.7,"y":656.8},{"p":5,"c":6,"t":0.417,"o":0,"x":505.6,"y":688.1},{"p":5,"c":6,"t":0.417,"o":0,"x":505.6,"y":750.8},{"p":5,"c":6,"t":0.417,"o":0,"x":526.2,"y":797.9},
{"p":5,"c":7,"t":0.5,"o":0,"x":562,"y":810},{"p":5,"c":7,"t":0.5,"o":0,"x":597.4,"y":790.4},{"p":5,"c":7,"t":0.5,"o":0,"x":612,"y":743},{"p":5,"c":7,"t":0.5,"o":0,"x":597.4,"y":677.2},{"p":5,"c":7,"t":0.5,"o":0,"x":562,"y":650},{"p":5,"c":7,"t":0.5,"o":0,"x":526.6,"y":677.2},{"p":5,"c":7,"t":0.5,"o":0,"x":512,"y":743},{"p":5,"c":7,"t":0.5,"o":0,"x":526.6,"y":790.4},
{"p":5,"c":8,"t":0.583,"o":0,"x":562,"y":800},{"p":5,"c":8,"t":0.583,"o":0,"x":591.7,"y":783.3},{"p":5,"c":8,"t":0.583,"o":0,"x":604,"y":743},{"p":5,"c":8,"t":0.583,"o":0,"x":591.7,"y":689.3},{"p":5,"c":8,"t":0.583,"o":0,"x":562,"y":667},{"p":5,"c":8,"t":0.583,"o":0,"x":532.3,"y":689.3},{"p":5,"c":8,"t":0.583,"o":0,"x":520,"y":743},{"p":5,"c":8,"t":0.583,"o":0,"x":532.3,"y":783.3},
{"p":5,"c":9,"t":0.667,"o":0,"x":562,"y":791},{"p":5,"c":9,"t":0.667,"o":0,"x":586.7,"y":776.9},{"p":5,"c":9,"t":0.667,"o":0,"x":597,"y":743},{"p":5,"c":9,"t":0.667,"o":0,"x":586.7,"y":699.9},{"p":5,"c":9,"t":0.667,"o":0,"x":562,"y":682},{"p":5,"c":9,"t":0.667,"o":0,"x":537.3,"y":699.9},{"p":5,"c":9,"t":0.667,"o":0,"x":527,"y":743},{"p":5,"c":9,"t":0.667,"o":0,"x":537.3,"y":776.9},
{"p":5,"c":10,"t":0.75,"o":0,"x":562,"y":782},{"p":5,"c":10,"t":0.75,"o":0,"x":582.5,"y":770.6},{"p":5,"c":10,"t":0.75,"o":0,"x":591,"y":743},{"p":5,"c":10,"t":0.75,"o":0,"x":582.5,"y":709.1},{"p":5,"c":10,"t":0.75,"o":0,"x":562,"y":695},{"p":5,"c":10,"t":0.75,"o":0,"x":541.5,"y":709.1},{"p":5,"c":10,"t":0.75,"o":0,"x":533,"y":743},{"p":5,"c":10,"t":0.75,"o":0,"x":541.5,"y":770.6},
{"p":5,"c":11,"t":0.833,"o":0,"x":562,"y":776},{"p":5,"c":11,"t":0.833,"o":0,"x":579,"y":766.3},{"p":5,"c":11,"t":0.833,"o":0,"x":586,"y":743},{"p":5,"c":11,"t":0.833,"o":0,"x":579,"y":716.1},{"p":5,"c":11,"t":0.833,"o":0,"x":562,"y":705},{"p":5,"c":11,"t":0.833,"o":0,"x":545,"y":716.1},{"p":5,"c":11,"t":0.833,"o":0,"x":538,"y":743},{"p":5,"c":11,"t":0.833,"o":0,"x":545,"y":766.3},
{"p":5,"c":12,"t":0.917,"o":0,"x":562,"y":769},{"p":5,"c":12,"t":0.917,"o":0,"x":576.1,"y":761.4},{"p":5,"c":12,"t":0.917,"o":0,"x":582,"y":743},{"p":5,"c":12,"t":0.917,"o":0,"x":576.1,"y":722.5},{"p":5,"c":12,"t":0.917,"o":0,"x":562,"y":714},{"p":5,"c":12,"t":0.917,"o":0,"x":547.9,"y":722.5},{"p":5,"c":12,"t":0.917,"o":0,"x":542,"y":743},{"p":5,"c":12,"t":0.917,"o":0,"x":547.9,"y":761.4},
{"p":5,"c":13,"t":1,"o":0,"x":562,"y":764},{"p":5,"c":13,"t":1,"o":0,"x":572.6,"y":757.8},{"p":5,"c":13,"t":1,"o":0,"x":577,"y":743},{"p":5,"c":13,"t":1,"o":0,"x":572.6,"y":728.2},{"p":5,"c":13,"t":1,"o":0,"x":562,"y":722},{"p":5,"c":13,"t":1,"o":0,"x":551.4,"y":728.2},{"p":5,"c":13,"t":1,"o":0,"x":547,"y":743},{"p":5,"c":13,"t":1,"o":0,"x":551.4,"y":757.8},

{"p":6,"c":0,"t":0,"o":1,"x":208,"y":879},{"p":6,"c":0,"t":0,"o":1,"x":185,"y":878},{"p":6,"c":0,"t":0,"o":1,"x":163,"y":875},{"p":6,"c":0,"t":0,"o":1,"x":144,"y":862},{"p":6,"c":0,"t":0,"o":1,"x":132,"y":841},{"p":6,"c":0,"t":0,"o":1,"x":126,"y":818},{"p":6,"c":0,"t":0,"o":1,"x":126,"y":796},{"p":6,"c":0,"t":0,"o":1,"x":132,"y":776},{"p":6,"c":0,"t":0,"o":1,"x":145,"y":757},{"p":6,"c":0,"t":0,"o":1,"x":163,"y":737},{"p":6,"c":0,"t":0,"o":1,"x":178,"y":717},{"p":6,"c":0,"t":0,"o":1,"x":193,"y":696},{"p":6,"c":0,"t":0,"o":1,"x":208,"y":670},{"p":6,"c":0,"t":0,"o":1,"x":222,"y":648},{"p":6,"c":0,"t":0,"o":1,"x":235,"y":625},{"p":6,"c":0,"t":0,"o":1,"x":247,"y":606},{"p":6,"c":0,"t":0,"o":1,"x":259,"y":588},{"p":6,"c":0,"t":0,"o":1,"x":272,"y":576},{"p":6,"c":0,"t":0,"o":1,"x":286,"y":581},{"p":6,"c":0,"t":0,"o":1,"x":297,"y":592},{"p":6,"c":0,"t":0,"o":1,"x":309,"y":608},{"p":6,"c":0,"t":0,"o":1,"x":319,"y":630},{"p":6,"c":0,"t":0,"o":1,"x":327,"y":650},{"p":6,"c":0,"t":0,"o":1,"x":333,"y":668},{"p":6,"c":0,"t":0,"o":1,"x":340,"y":695},{"p":6,"c":0,"t":0,"o":1,"x":344,"y":719},{"p":6,"c":0,"t":0,"o":1,"x":343,"y":750},{"p":6,"c":0,"t":0,"o":1,"x":341,"y":777},{"p":6,"c":0,"t":0,"o":1,"x":336,"y":800},{"p":6,"c":0,"t":0,"o":1,"x":329,"y":818},{"p":6,"c":0,"t":0,"o":1,"x":316,"y":830},{"p":6,"c":0,"t":0,"o":1,"x":301,"y":840},{"p":6,"c":0,"t":0,"o":1,"x":287,"y":853},{"p":6,"c":0,"t":0,"o":1,"x":272,"y":866},{"p":6,"c":0,"t":0,"o":1,"x":258,"y":874},{"p":6,"c":0,"t":0,"o":1,"x":245,"y":879},
{"p":6,"c":1,"t":0.25,"o":0,"x":202.8,"y":855.8},{"p":6,"c":1,"t":0.25,"o":0,"x":178.1,"y":846.9},{"p":6,"c":1,"t":0.25,"o":0,"x":163.3,"y":827.7},{"p":6,"c":1,"t":0.25,"o":0,"x":160.3,"y":795.8},{"p":6,"c":1,"t":0.25,"o":0,"x":168.2,"y":767.8},{"p":6,"c":1,"t":0.25,"o":0,"x":188,"y":744.8},{"p":6,"c":1,"t":0.25,"o":0,"x":207.8,"y":719.3},{"p":6,"c":1,"t":0.25,"o":0,"x":227.6,"y":674.6},{"p":6,"c":1,"t":0.25,"o":0,"x":247.3,"y":636.3},{"p":6,"c":1,"t":0.25,"o":0,"x":267.1,"y":610.8},{"p":6,"c":1,"t":0.25,"o":0,"x":282,"y":607},{"p":6,"c":1,"t":0.25,"o":0,"x":301.7,"y":617.2},{"p":6,"c":1,"t":0.25,"o":0,"x":314.6,"y":649.1},{"p":6,"c":1,"t":0.25,"o":0,"x":321.5,"y":681},{"p":6,"c":1,"t":0.25,"o":0,"x":324.5,"y":719.3},{"p":6,"c":1,"t":0.25,"o":0,"x":321.5,"y":757.6},{"p":6,"c":1,"t":0.25,"o":0,"x":309.6,"y":783.1},{"p":6,"c":1,"t":0.25,"o":0,"x":286.9,"y":808.6},{"p":6,"c":1,"t":0.25,"o":0,"x":262.2,"y":834.1},{"p":6,"c":1,"t":0.25,"o":0,"x":237.5,"y":853.3},
{"p":6,"c":2,"t":0.5,"o":0,"x":207.8,"y":827.7},{"p":6,"c":2,"t":0.5,"o":0,"x":193,"y":815},{"p":6,"c":2,"t":0.5,"o":0,"x":185,"y":789.5},{"p":6,"c":2,"t":0.5,"o":0,"x":193,"y":757.6},{"p":6,"c":2,"t":0.5,"o":0,"x":212.7,"y":732},{"p":6,"c":2,"t":0.5,"o":0,"x":232.5,"y":693.8},{"p":6,"c":2,"t":0.5,"o":0,"x":252.3,"y":658},{"p":6,"c":2,"t":0.5,"o":0,"x":272.1,"y":640.2},{"p":6,"c":2,"t":0.5,"o":0,"x":289.9,"y":642.7},{"p":6,"c":2,"t":0.5,"o":0,"x":303,"y":662},{"p":6,"c":2,"t":0.5,"o":0,"x":312,"y":693.8},{"p":6,"c":2,"t":0.5,"o":0,"x":313,"y":732},{"p":6,"c":2,"t":0.5,"o":0,"x":305,"y":763.9},{"p":6,"c":2,"t":0.5,"o":0,"x":284,"y":785.6},{"p":6,"c":2,"t":0.5,"o":0,"x":262.2,"y":802.2},{"p":6,"c":2,"t":0.5,"o":0,"x":237.5,"y":824.1},
{"p":6,"c":3,"t":0.75,"o":0,"x":222.6,"y":799.7},{"p":6,"c":3,"t":0.75,"o":0,"x":212.7,"y":789.5},{"p":6,"c":3,"t":0.75,"o":0,"x":212.7,"y":764},{"p":6,"c":3,"t":0.75,"o":0,"x":224.6,"y":738.4},{"p":6,"c":3,"t":0.75,"o":0,"x":242.4,"y":706.5},{"p":6,"c":3,"t":0.75,"o":0,"x":260.2,"y":672},{"p":6,"c":3,"t":0.75,"o":0,"x":277,"y":660},{"p":6,"c":3,"t":0.75,"o":0,"x":292,"y":665},{"p":6,"c":3,"t":0.75,"o":0,"x":299,"y":690},{"p":6,"c":3,"t":0.75,"o":0,"x":300,"y":725},{"p":6,"c":3,"t":0.75,"o":0,"x":290,"y":755},{"p":6,"c":3,"t":0.75,"o":0,"x":266,"y":778},{"p":6,"c":3,"t":0.75,"o":0,"x":243,"y":796},
{"p":6,"c":4,"t":1,"o":0,"x":265,"y":740},{"p":6,"c":4,"t":1,"o":0,"x":280,"y":735},{"p":6,"c":4,"t":1,"o":0,"x":290,"y":718},{"p":6,"c":4,"t":1,"o":0,"x":289,"y":698},{"p":6,"c":4,"t":1,"o":0,"x":280,"y":686},{"p":6,"c":4,"t":1,"o":0,"x":268,"y":688},{"p":6,"c":4,"t":1,"o":0,"x":258,"y":702},{"p":6,"c":4,"t":1,"o":0,"x":256,"y":725}
]},
"columns": 3,
"bounds": "flush",
"spacing": {"row": 59, "column": 136},
"concat": [
 {"width": 269, "height": 209, "transform": [{"filter": "datum.p == 1"}],
  "layer": [
   {"transform": [{"filter": "datum.o == 0"}], "mark": {"type": "line", "interpolate": "cardinal-closed", "strokeWidth": 1.6},
    "encoding": {"x": {"field": "x", "type": "quantitative", "scale": {"domain": [100, 900], "nice": false, "zero": false}, "axis": {"orient": "bottom", "values": [100,200,300,400,500,600,700,800,900], "format": "d", "title": "IPCA1"}},
     "y": {"field": "y", "type": "quantitative", "scale": {"domain": [200, 1000], "nice": false, "zero": false}, "axis": {"orient": "left", "values": [200,300,400,500,600,700,800,900,1000], "format": "d", "title": "IPCA2"}},
     "color": {"field": "t", "type": "quantitative", "scale": {"domain": [0, 0.125, 0.375, 0.625, 0.875, 1], "range": ["#00008f", "#0000ff", "#00ffff", "#ffff00", "#ff0000", "#800000"], "interpolate": "rgb"}, "legend": null},
     "detail": {"field": "c", "type": "nominal"}, "order": {"value": null}}},
   {"transform": [{"filter": "datum.o == 1"}], "mark": {"type": "line", "interpolate": "cardinal", "strokeWidth": 1.6},
    "encoding": {"x": {"field": "x", "type": "quantitative", "scale": {"domain": [100, 900], "nice": false, "zero": false}, "axis": null},
     "y": {"field": "y", "type": "quantitative", "scale": {"domain": [200, 1000], "nice": false, "zero": false}, "axis": null},
     "color": {"field": "t", "type": "quantitative", "scale": {"domain": [0, 0.125, 0.375, 0.625, 0.875, 1], "range": ["#00008f", "#0000ff", "#00ffff", "#ffff00", "#ff0000", "#800000"], "interpolate": "rgb"}, "legend": null},
     "detail": {"field": "c", "type": "nominal"}, "order": {"value": null}}},
   {"mark": {"type": "point", "opacity": 0},
    "encoding": {"x": {"field": "x", "type": "quantitative", "scale": {"domain": [100, 900], "nice": false, "zero": false}, "axis": {"orient": "top", "values": [100,200,300,400,500,600,700,800,900], "labels": false, "title": null}},
     "y": {"field": "y", "type": "quantitative", "scale": {"domain": [200, 1000], "nice": false, "zero": false}, "axis": {"orient": "right", "values": [200,300,400,500,600,700,800,900,1000], "labels": false, "title": null}}}}
  ],
  "resolve": {"axis": {"x": "independent", "y": "independent"}}},
 {"width": 269, "height": 209, "transform": [{"filter": "datum.p == 2"}],
  "layer": [
   {"transform": [{"filter": "datum.o == 0"}], "mark": {"type": "line", "interpolate": "cardinal-closed", "strokeWidth": 1.6},
    "encoding": {"x": {"field": "x", "type": "quantitative", "scale": {"domain": [100, 900], "nice": false, "zero": false}, "axis": {"orient": "bottom", "values": [100,200,300,400,500,600,700,800,900], "format": "d", "title": "IPCA1"}},
     "y": {"field": "y", "type": "quantitative", "scale": {"domain": [200, 1000], "nice": false, "zero": false}, "axis": {"orient": "left", "values": [200,300,400,500,600,700,800,900,1000], "format": "d", "title": "IPCA2"}},
     "color": {"field": "t", "type": "quantitative", "scale": {"domain": [0, 0.125, 0.375, 0.625, 0.875, 1], "range": ["#00008f", "#0000ff", "#00ffff", "#ffff00", "#ff0000", "#800000"], "interpolate": "rgb"}, "legend": null},
     "detail": {"field": "c", "type": "nominal"}, "order": {"value": null}}},
   {"transform": [{"filter": "datum.o == 1"}], "mark": {"type": "line", "interpolate": "cardinal", "strokeWidth": 1.6},
    "encoding": {"x": {"field": "x", "type": "quantitative", "scale": {"domain": [100, 900], "nice": false, "zero": false}, "axis": null},
     "y": {"field": "y", "type": "quantitative", "scale": {"domain": [200, 1000], "nice": false, "zero": false}, "axis": null},
     "color": {"field": "t", "type": "quantitative", "scale": {"domain": [0, 0.125, 0.375, 0.625, 0.875, 1], "range": ["#00008f", "#0000ff", "#00ffff", "#ffff00", "#ff0000", "#800000"], "interpolate": "rgb"}, "legend": null},
     "detail": {"field": "c", "type": "nominal"}, "order": {"value": null}}},
   {"mark": {"type": "point", "opacity": 0},
    "encoding": {"x": {"field": "x", "type": "quantitative", "scale": {"domain": [100, 900], "nice": false, "zero": false}, "axis": {"orient": "top", "values": [100,200,300,400,500,600,700,800,900], "labels": false, "title": null}},
     "y": {"field": "y", "type": "quantitative", "scale": {"domain": [200, 1000], "nice": false, "zero": false}, "axis": {"orient": "right", "values": [200,300,400,500,600,700,800,900,1000], "labels": false, "title": null}}}}
  ],
  "resolve": {"axis": {"x": "independent", "y": "independent"}}},
 {"width": 269, "height": 209, "transform": [{"filter": "datum.p == 3"}],
  "layer": [
   {"transform": [{"filter": "datum.o == 0"}], "mark": {"type": "line", "interpolate": "cardinal-closed", "strokeWidth": 1.6},
    "encoding": {"x": {"field": "x", "type": "quantitative", "scale": {"domain": [100, 900], "nice": false, "zero": false}, "axis": {"orient": "bottom", "values": [100,200,300,400,500,600,700,800,900], "format": "d", "title": "IPCA1"}},
     "y": {"field": "y", "type": "quantitative", "scale": {"domain": [200, 1000], "nice": false, "zero": false}, "axis": {"orient": "left", "values": [200,300,400,500,600,700,800,900,1000], "format": "d", "title": "IPCA2"}},
     "color": {"field": "t", "type": "quantitative", "scale": {"domain": [0, 0.125, 0.375, 0.625, 0.875, 1], "range": ["#00008f", "#0000ff", "#00ffff", "#ffff00", "#ff0000", "#800000"], "interpolate": "rgb"}, "legend": null},
     "detail": {"field": "c", "type": "nominal"}, "order": {"value": null}}},
   {"transform": [{"filter": "datum.o == 1"}], "mark": {"type": "line", "interpolate": "cardinal", "strokeWidth": 1.6},
    "encoding": {"x": {"field": "x", "type": "quantitative", "scale": {"domain": [100, 900], "nice": false, "zero": false}, "axis": null},
     "y": {"field": "y", "type": "quantitative", "scale": {"domain": [200, 1000], "nice": false, "zero": false}, "axis": null},
     "color": {"field": "t", "type": "quantitative", "scale": {"domain": [0, 0.125, 0.375, 0.625, 0.875, 1], "range": ["#00008f", "#0000ff", "#00ffff", "#ffff00", "#ff0000", "#800000"], "interpolate": "rgb"}, "legend": null},
     "detail": {"field": "c", "type": "nominal"}, "order": {"value": null}}},
   {"mark": {"type": "point", "opacity": 0},
    "encoding": {"x": {"field": "x", "type": "quantitative", "scale": {"domain": [100, 900], "nice": false, "zero": false}, "axis": {"orient": "top", "values": [100,200,300,400,500,600,700,800,900], "labels": false, "title": null}},
     "y": {"field": "y", "type": "quantitative", "scale": {"domain": [200, 1000], "nice": false, "zero": false}, "axis": {"orient": "right", "values": [200,300,400,500,600,700,800,900,1000], "labels": false, "title": null}}}}
  ],
  "resolve": {"axis": {"x": "independent", "y": "independent"}}},
 {"width": 269, "height": 209, "transform": [{"filter": "datum.p == 4"}],
  "title": {"text": "(a)\u00a0 Most Similar", "orient": "bottom", "anchor": "middle", "frame": "group", "font": "DejaVu Serif", "fontSize": 19, "fontWeight": "normal", "color": "#1a1a1a", "offset": 17},
  "layer": [
   {"transform": [{"filter": "datum.o == 0"}], "mark": {"type": "line", "interpolate": "cardinal-closed", "strokeWidth": 1.6},
    "encoding": {"x": {"field": "x", "type": "quantitative", "scale": {"domain": [100, 900], "nice": false, "zero": false}, "axis": {"orient": "bottom", "values": [100,200,300,400,500,600,700,800,900], "format": "d", "title": "IPCA1"}},
     "y": {"field": "y", "type": "quantitative", "scale": {"domain": [200, 1000], "nice": false, "zero": false}, "axis": {"orient": "left", "values": [200,300,400,500,600,700,800,900,1000], "format": "d", "title": "IPCA2"}},
     "color": {"field": "t", "type": "quantitative", "scale": {"domain": [0, 0.125, 0.375, 0.625, 0.875, 1], "range": ["#00008f", "#0000ff", "#00ffff", "#ffff00", "#ff0000", "#800000"], "interpolate": "rgb"}, "legend": null},
     "detail": {"field": "c", "type": "nominal"}, "order": {"value": null}}},
   {"transform": [{"filter": "datum.o == 1"}], "mark": {"type": "line", "interpolate": "cardinal", "strokeWidth": 1.6},
    "encoding": {"x": {"field": "x", "type": "quantitative", "scale": {"domain": [100, 900], "nice": false, "zero": false}, "axis": null},
     "y": {"field": "y", "type": "quantitative", "scale": {"domain": [200, 1000], "nice": false, "zero": false}, "axis": null},
     "color": {"field": "t", "type": "quantitative", "scale": {"domain": [0, 0.125, 0.375, 0.625, 0.875, 1], "range": ["#00008f", "#0000ff", "#00ffff", "#ffff00", "#ff0000", "#800000"], "interpolate": "rgb"}, "legend": null},
     "detail": {"field": "c", "type": "nominal"}, "order": {"value": null}}},
   {"mark": {"type": "point", "opacity": 0},
    "encoding": {"x": {"field": "x", "type": "quantitative", "scale": {"domain": [100, 900], "nice": false, "zero": false}, "axis": {"orient": "top", "values": [100,200,300,400,500,600,700,800,900], "labels": false, "title": null}},
     "y": {"field": "y", "type": "quantitative", "scale": {"domain": [200, 1000], "nice": false, "zero": false}, "axis": {"orient": "right", "values": [200,300,400,500,600,700,800,900,1000], "labels": false, "title": null}}}}
  ],
  "resolve": {"axis": {"x": "independent", "y": "independent"}}},
 {"width": 269, "height": 209, "transform": [{"filter": "datum.p == 5"}],
  "title": {"text": "(b)\u00a0 Centroids", "orient": "bottom", "anchor": "middle", "frame": "group", "font": "DejaVu Serif", "fontSize": 19, "fontWeight": "normal", "color": "#1a1a1a", "offset": 17},
  "layer": [
   {"transform": [{"filter": "datum.o == 0"}], "mark": {"type": "line", "interpolate": "cardinal-closed", "strokeWidth": 1.6},
    "encoding": {"x": {"field": "x", "type": "quantitative", "scale": {"domain": [100, 900], "nice": false, "zero": false}, "axis": {"orient": "bottom", "values": [100,200,300,400,500,600,700,800,900], "format": "d", "title": "IPCA1"}},
     "y": {"field": "y", "type": "quantitative", "scale": {"domain": [200, 1000], "nice": false, "zero": false}, "axis": {"orient": "left", "values": [200,300,400,500,600,700,800,900,1000], "format": "d", "title": "IPCA2"}},
     "color": {"field": "t", "type": "quantitative", "scale": {"domain": [0, 0.125, 0.375, 0.625, 0.875, 1], "range": ["#00008f", "#0000ff", "#00ffff", "#ffff00", "#ff0000", "#800000"], "interpolate": "rgb"}, "legend": null},
     "detail": {"field": "c", "type": "nominal"}, "order": {"value": null}}},
   {"transform": [{"filter": "datum.o == 1"}], "mark": {"type": "line", "interpolate": "cardinal", "strokeWidth": 1.6},
    "encoding": {"x": {"field": "x", "type": "quantitative", "scale": {"domain": [100, 900], "nice": false, "zero": false}, "axis": null},
     "y": {"field": "y", "type": "quantitative", "scale": {"domain": [200, 1000], "nice": false, "zero": false}, "axis": null},
     "color": {"field": "t", "type": "quantitative", "scale": {"domain": [0, 0.125, 0.375, 0.625, 0.875, 1], "range": ["#00008f", "#0000ff", "#00ffff", "#ffff00", "#ff0000", "#800000"], "interpolate": "rgb"}, "legend": null},
     "detail": {"field": "c", "type": "nominal"}, "order": {"value": null}}},
   {"mark": {"type": "point", "opacity": 0},
    "encoding": {"x": {"field": "x", "type": "quantitative", "scale": {"domain": [100, 900], "nice": false, "zero": false}, "axis": {"orient": "top", "values": [100,200,300,400,500,600,700,800,900], "labels": false, "title": null}},
     "y": {"field": "y", "type": "quantitative", "scale": {"domain": [200, 1000], "nice": false, "zero": false}, "axis": {"orient": "right", "values": [200,300,400,500,600,700,800,900,1000], "labels": false, "title": null}}}}
  ],
  "resolve": {"axis": {"x": "independent", "y": "independent"}}},
 {"width": 269, "height": 209, "transform": [{"filter": "datum.p == 6"}],
  "title": {"text": "(c)\u00a0 Least Similar", "orient": "bottom", "anchor": "middle", "frame": "group", "font": "DejaVu Serif", "fontSize": 19, "fontWeight": "normal", "color": "#1a1a1a", "offset": 17},
  "layer": [
   {"transform": [{"filter": "datum.o == 0"}], "mark": {"type": "line", "interpolate": "cardinal-closed", "strokeWidth": 1.6},
    "encoding": {"x": {"field": "x", "type": "quantitative", "scale": {"domain": [100, 900], "nice": false, "zero": false}, "axis": {"orient": "bottom", "values": [100,200,300,400,500,600,700,800,900], "format": "d", "title": "IPCA1"}},
     "y": {"field": "y", "type": "quantitative", "scale": {"domain": [200, 1000], "nice": false, "zero": false}, "axis": {"orient": "left", "values": [200,300,400,500,600,700,800,900,1000], "format": "d", "title": "IPCA2"}},
     "color": {"field": "t", "type": "quantitative", "scale": {"domain": [0, 0.125, 0.375, 0.625, 0.875, 1], "range": ["#00008f", "#0000ff", "#00ffff", "#ffff00", "#ff0000", "#800000"], "interpolate": "rgb"}, "legend": null},
     "detail": {"field": "c", "type": "nominal"}, "order": {"value": null}}},
   {"transform": [{"filter": "datum.o == 1"}], "mark": {"type": "line", "interpolate": "cardinal", "strokeWidth": 1.6},
    "encoding": {"x": {"field": "x", "type": "quantitative", "scale": {"domain": [100, 900], "nice": false, "zero": false}, "axis": null},
     "y": {"field": "y", "type": "quantitative", "scale": {"domain": [200, 1000], "nice": false, "zero": false}, "axis": null},
     "color": {"field": "t", "type": "quantitative", "scale": {"domain": [0, 0.125, 0.375, 0.625, 0.875, 1], "range": ["#00008f", "#0000ff", "#00ffff", "#ffff00", "#ff0000", "#800000"], "interpolate": "rgb"}, "legend": null},
     "detail": {"field": "c", "type": "nominal"}, "order": {"value": null}}},
   {"mark": {"type": "point", "opacity": 0},
    "encoding": {"x": {"field": "x", "type": "quantitative", "scale": {"domain": [100, 900], "nice": false, "zero": false}, "axis": {"orient": "top", "values": [100,200,300,400,500,600,700,800,900], "labels": false, "title": null}},
     "y": {"field": "y", "type": "quantitative", "scale": {"domain": [200, 1000], "nice": false, "zero": false}, "axis": {"orient": "right", "values": [200,300,400,500,600,700,800,900,1000], "labels": false, "title": null}}}}
  ],
  "resolve": {"axis": {"x": "independent", "y": "independent"}}}
]
}
